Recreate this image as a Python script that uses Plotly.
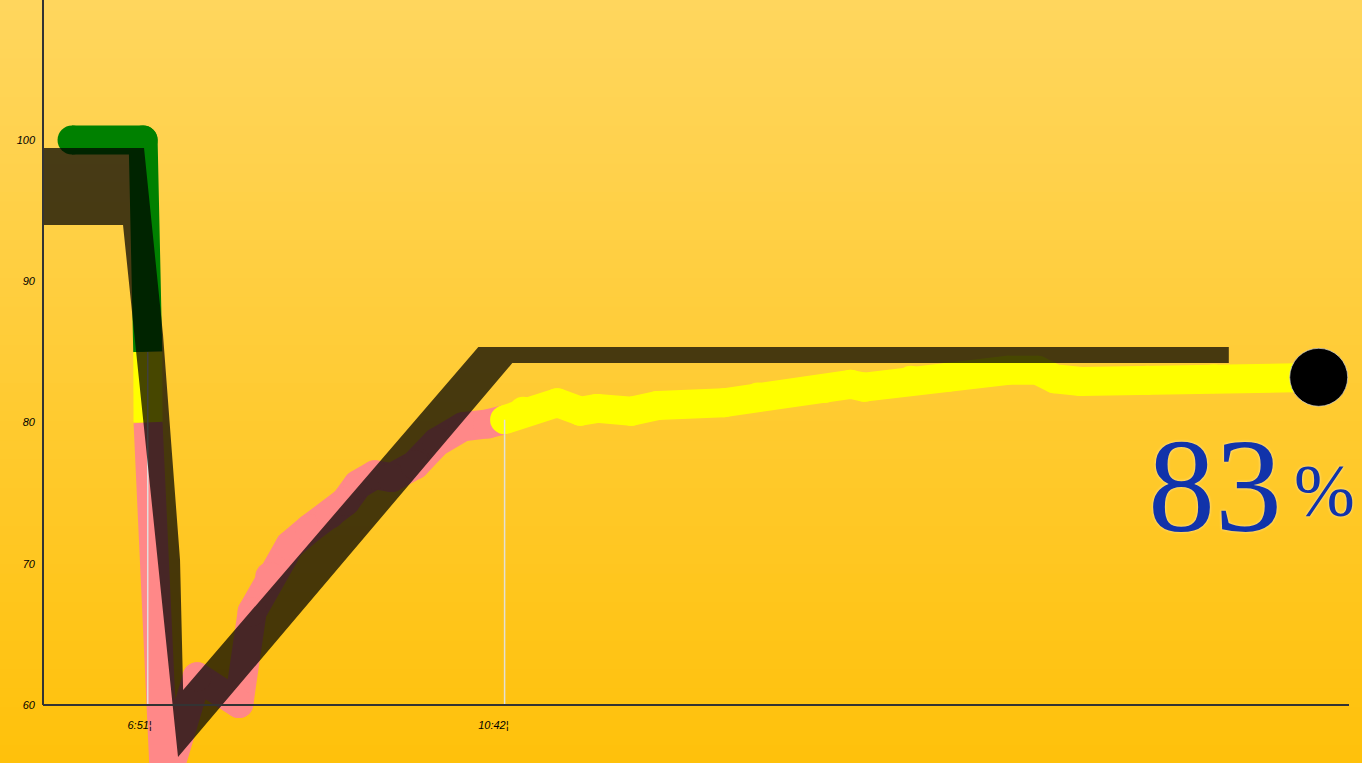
import plotly.graph_objects as go

# ---------------- data ----------------
# time in minutes after midnight, value in %
times = [362, 408, 411, 411.2, 422, 443, 470, 478.6, 490, 503, 516, 529, 539, 547,
         558, 569, 584, 598, 615, 631, 642, 654, 676, 691, 702, 724, 741, 784, 806,
         849, 866, 875, 905, 929, 968, 987, 998, 1015, 1058, 1101, 1169]
values = [100, 100, 85, 80, 54.3, 62.0, 60.1, 66.6, 69.1, 71.3, 72.5, 73.5, 74.4, 75.6,
          76.3, 76.1, 77.0, 78.6, 79.7, 79.9, 80.2, 80.8, 81.4, 80.8, 81.0, 80.8, 81.2, 81.4, 81.8,
          82.4, 82.7, 82.5, 83.0, 83.2, 83.7, 83.7, 83.1, 82.9, 83.0, 83.1, 83.2]

# target corridor (upper edge left->right, lower edge left->right)
band_upper_t = [343.2, 408.6, 420.9, 431.9, 433.9, 625.0, 1110.8]
band_upper_v = [99.43, 99.43, 86.19, 70.27, 61.06, 85.35, 85.35]
band_lower_t = [343.2, 395.0, 430.6, 647.0, 1110.8]
band_lower_v = [93.98, 93.98, 56.32, 84.21, 84.21]

tick_vals = [411, 642]
tick_text = ["6:51¦", "10:42¦"]
y_ticks = [60, 70, 80, 90, 100]
thresholds = [85, 80]

# ---------------- style ----------------
X_RANGE = [343.2, 1188.6]
Y_RANGE = [55.894, 109.912]
LW = 29
GREEN, YELLOW, PINK = "#008000", "#FFFF00", "#FF8888"
BAND = "rgba(0,0,0,0.72)"
AXIS = "#333333"
TOP_RGB, BOT_RGB = (255, 214, 94), (255, 193, 10)


def color_for(v):
    if v >= thresholds[0]:
        return GREEN
    if v >= thresholds[1]:
        return YELLOW
    return PINK


fig = go.Figure()

# value line, coloured by level, split into runs of equal colour
seg_cols = [color_for(min(values[i], values[i + 1])) for i in range(len(values) - 1)]
runs = []
start = 0
for i in range(1, len(seg_cols) + 1):
    if i == len(seg_cols) or seg_cols[i] != seg_cols[start]:
        runs.append((start, i, seg_cols[start]))
        start = i
for s, e, col in runs:
    xs = times[s:e + 1]
    ys = values[s:e + 1]
    sizes = [0 if y in thresholds else LW for y in ys]
    fig.add_trace(go.Scatter(
        x=xs, y=ys, mode="lines+markers",
        line=dict(color=col, width=LW),
        marker=dict(color=col, size=sizes, opacity=1, line=dict(width=0)),
        hoverinfo="skip", showlegend=False))

# drop lines at the labelled times
for t in tick_vals:
    v = values[times.index(t)]
    fig.add_trace(go.Scatter(
        x=[t, t], y=[v, 60], mode="lines",
        line=dict(color="rgba(225,225,225,0.95)", width=1.5),
        hoverinfo="skip", showlegend=False))

# target corridor
fig.add_trace(go.Scatter(
    x=band_upper_t + band_lower_t[::-1],
    y=band_upper_v + band_lower_v[::-1],
    mode="lines", fill="toself", fillcolor=BAND,
    line=dict(width=0, color="rgba(0,0,0,0)"),
    hoverinfo="skip", showlegend=False))

# last value marker
fig.add_trace(go.Scatter(
    x=[times[-1]], y=[values[-1]], mode="markers",
    marker=dict(color="black", size=58, opacity=1,
                line=dict(color="rgba(210,210,210,0.7)", width=1)),
    cliponaxis=False, hoverinfo="skip", showlegend=False))

# background gradient
shapes = []
N = 80
for k in range(N):
    f = (k + 0.5) / N
    r = round(BOT_RGB[0] + (TOP_RGB[0] - BOT_RGB[0]) * f)
    g = round(BOT_RGB[1] + (TOP_RGB[1] - BOT_RGB[1]) * f)
    b = round(BOT_RGB[2] + (TOP_RGB[2] - BOT_RGB[2]) * f)
    shapes.append(dict(type="rect", xref="paper", yref="paper",
                       x0=-0.05, x1=1.05, y0=k / N - 0.002, y1=(k + 1) / N + 0.002,
                       fillcolor=f"rgb({r},{g},{b})", line=dict(width=0), layer="below"))

p60 = (60 - Y_RANGE[0]) / (Y_RANGE[1] - Y_RANGE[0])
shapes.append(dict(type="line", xref="paper", yref="paper", x0=0, x1=0, y0=p60, y1=1,
                   line=dict(color=AXIS, width=2), layer="above"))

tick_font = dict(family="Liberation Sans, Arial, sans-serif", size=11, color="black", style="italic")

big = f"{round(values[-1])}"
annotations = [
    dict(x=1101.8, y=75.5, xref="x", yref="y", text=big, showarrow=False,
         xanchor="center", yanchor="middle",
         font=dict(family="Liberation Serif, Times New Roman, serif", size=134, color="#1133AA",
                   shadow="0px 0px 3px rgba(255,255,255,0.6)")),
    dict(x=1173.0, y=75.15, xref="x", yref="y", text="%", showarrow=False,
         xanchor="center", yanchor="middle",
         font=dict(family="Liberation Serif, Times New Roman, serif", size=73, color="#1133AA",
                   shadow="0px 0px 3px rgba(255,255,255,0.6)")),
]

fig.update_layout(
    width=1362, height=763,
    margin=dict(l=43, r=13, t=0, b=0, pad=0),
    paper_bgcolor="rgb(255,193,10)",
    plot_bgcolor="rgba(0,0,0,0)",
    showlegend=False,
    shapes=shapes,
    annotations=annotations,
    xaxis=dict(range=X_RANGE, showgrid=False, zeroline=False, showline=True,
               linecolor=AXIS, linewidth=2, anchor="free", position=p60,
               tickmode="array", tickvals=tick_vals, ticktext=tick_text, ticks="",
               ticklabelposition="outside left", ticklabelstandoff=10, ticklabelshift=5,
               tickfont=tick_font),
    yaxis=dict(range=Y_RANGE, showgrid=False, zeroline=False, showline=False,
               tickmode="array", tickvals=y_ticks, ticks="", ticklabelstandoff=7,
               tickfont=tick_font),
)

# round line joins, like the original drawing
post = ("document.querySelectorAll('path.js-line').forEach(function(p){"
        "p.style.strokeLinejoin='round';});")
fig.write_html("out.html", post_script=post)
